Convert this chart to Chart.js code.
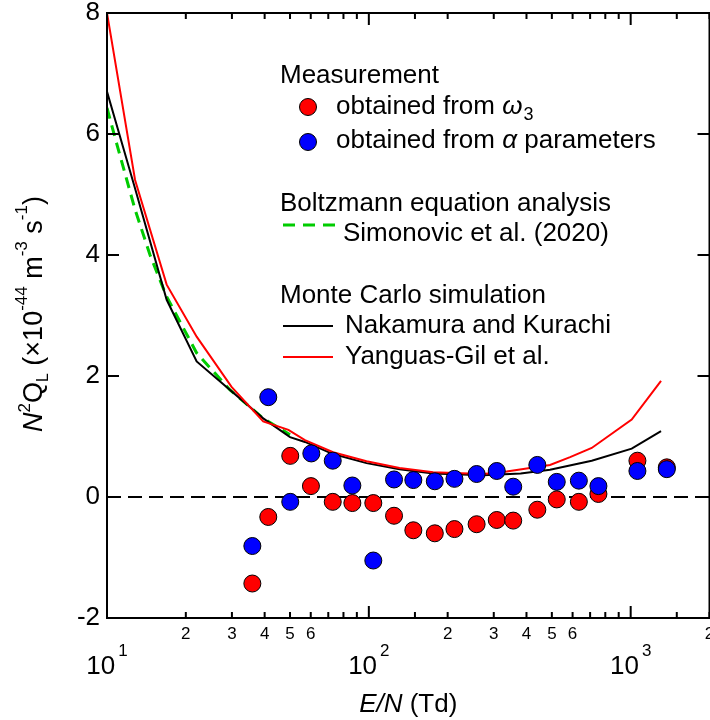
<!DOCTYPE html>
<html>
<head>
<meta charset="utf-8">
<script src="https://cdn.jsdelivr.net/npm/chart.js@4.4.1/dist/chart.umd.min.js"></script>
<style>
  html, body { margin: 0; padding: 0; background: #fff; overflow: hidden; }
  canvas { display: block; }
</style>
</head>
<body>
<canvas id="c" width="710" height="720"></canvas>
<script>
// ---------------- data ----------------
const omegaX = [35.9, 41.3, 50.1, 60.1, 72.8, 86.5, 104, 124.8, 147.9, 178.6, 212.3, 258, 308, 356, 440, 522, 634, 753, 1061, 1374];
const omegaY = [-1.43, -0.33, 0.68, 0.18, -0.08, -0.10, -0.10, -0.31, -0.55, -0.60, -0.53, -0.45, -0.38, -0.39, -0.21, -0.04, -0.08, 0.05, 0.60, 0.49];

const alphaX = [35.9, 41.3, 50.1, 60.3, 72.8, 86.5, 104, 124.8, 147.9, 178.6, 212.3, 258, 308, 356, 440, 522, 634, 753, 1061, 1374];
const alphaY = [-0.81, 1.65, -0.08, 0.72, 0.60, 0.19, -1.05, 0.29, 0.28, 0.26, 0.30, 0.38, 0.43, 0.17, 0.53, 0.25, 0.27, 0.18, 0.43, 0.46];

const nakamuraX = [10, 12.8, 16.9, 22, 39.5, 50, 57, 73, 98, 131, 176, 273, 380, 492, 710, 1009, 1306];
const nakamuraY = [6.70, 5.10, 3.26, 2.24, 1.30, 0.99, 0.91, 0.71, 0.56, 0.46, 0.39, 0.36, 0.39, 0.45, 0.60, 0.80, 1.09];

const yanguasX = [10, 12.8, 16.9, 22, 29.9, 39.5, 49.3, 57, 73, 98, 131, 176, 273, 336, 492, 587, 710, 1009, 1306];
const yanguasY = [8.0, 5.24, 3.51, 2.65, 1.82, 1.25, 1.11, 0.94, 0.74, 0.59, 0.48, 0.41, 0.38, 0.42, 0.53, 0.66, 0.81, 1.28, 1.92];

const simonovicX = [10, 10.7, 12.8, 14.6, 16.9, 22, 29.5, 39.5, 50];
const simonovicY = [6.43, 5.96, 4.75, 4.00, 3.31, 2.38, 1.77, 1.30, 1.03];

const zeroX = [10, 2000];
const zeroY = [0, 0];

// tick labels
const xMinorTickValues = [20, 30, 40, 50, 60, 200, 300, 400, 500, 600, 2000];
const xMinorTickLabels = ['2', '3', '4', '5', '6', '2', '3', '4', '5', '6', '2'];
const xMajorTickValues = [10, 100, 1000];
const xMajorTickBase = ['10', '10', '10'];
const xMajorTickExp = ['1', '2', '3'];
const yTickValues = [-2, 0, 2, 4, 6, 8];
const yTickLabels = ['-2', '0', '2', '4', '6', '8'];

// ---------------- drawing ----------------
const FONT = '"Liberation Sans", Arial, Helvetica, sans-serif';
const pts = (xs, ys) => xs.map((x, i) => ({ x: x, y: ys[i] }));
const near = (a, b) => Math.abs(a - b) <= 1e-6 * Math.max(Math.abs(a), Math.abs(b), 1);

function rich(ctx, x, y, parts) {
  let cx = x;
  for (const p of parts) {
    ctx.font = (p.italic ? 'italic ' : '') + p.size + 'px ' + FONT;
    ctx.fillText(p.t, cx, y + (p.dy || 0));
    cx += ctx.measureText(p.t).width + (p.gap || 0);
  }
  return cx;
}

const decorPlugin = {
  id: 'decor',
  afterDraw(chart) {
    const ctx = chart.ctx;
    const { left, right, top, bottom } = chart.chartArea;
    const xs = chart.scales.x, ys = chart.scales.y;
    ctx.save();
    ctx.strokeStyle = '#000';
    ctx.fillStyle = '#000';
    ctx.lineWidth = 2;
    ctx.lineCap = 'butt';
    // frame
    ctx.beginPath();
    ctx.moveTo(left, top); ctx.lineTo(right, top); ctx.lineTo(right, bottom); ctx.lineTo(left, bottom); ctx.closePath();
    ctx.stroke();
    // x ticks (bottom & top, inward)
    ctx.beginPath();
    xs.ticks.forEach(t => {
      const px = xs.getPixelForValue(t.value);
      const major = xMajorTickValues.some(v => near(v, t.value));
      const len = major ? 12 : 6;
      ctx.moveTo(px, bottom); ctx.lineTo(px, bottom - len);
      ctx.moveTo(px, top); ctx.lineTo(px, top + len);
    });
    // y ticks (left & right, inward)
    ys.ticks.forEach(t => {
      const py = ys.getPixelForValue(t.value);
      ctx.moveTo(left, py); ctx.lineTo(left + 12, py);
      ctx.moveTo(right, py); ctx.lineTo(right - 12, py);
    });
    ctx.stroke();

    // x minor labels
    ctx.textBaseline = 'alphabetic';
    ctx.textAlign = 'center';
    ctx.font = '17px ' + FONT;
    xMinorTickValues.forEach((v, i) => {
      ctx.fillText(xMinorTickLabels[i], xs.getPixelForValue(v), 639);
    });

    // x major labels with superscript exponent
    ctx.textAlign = 'left';
    xMajorTickValues.forEach((v, i) => {
      const px = xs.getPixelForValue(v);
      ctx.font = '26px ' + FONT;
      const w1 = ctx.measureText(xMajorTickBase[i]).width;
      ctx.font = '17px ' + FONT;
      const w2 = ctx.measureText(xMajorTickExp[i]).width;
      const start = px - (w1 + 3 + w2) / 2;
      rich(ctx, start, 674, [
        { t: xMajorTickBase[i], size: 26, gap: 3 },
        { t: xMajorTickExp[i], size: 17, dy: -18 }
      ]);
    });

    // x axis title
    ctx.font = 'italic 26px ' + FONT;
    const wA = ctx.measureText('E/N').width;
    ctx.font = '26px ' + FONT;
    const wB = ctx.measureText(' (Td)').width;
    const cx = (left + right) / 2;
    rich(ctx, cx - (wA + wB) / 2, 712, [
      { t: 'E/N', size: 26, italic: true },
      { t: ' (Td)', size: 26 }
    ]);

    // y axis title (rotated)
    ctx.save();
    ctx.translate(42, 432);
    ctx.rotate(-Math.PI / 2);
    rich(ctx, 0, 0, [
      { t: 'N', size: 27, italic: true },
      { t: '2', size: 17, dy: -12 },
      { t: 'Q', size: 27 },
      { t: 'L', size: 16, dy: 6 },
      { t: ' (×10', size: 27 },
      { t: '-44', size: 17, dy: -15 },
      { t: ' m', size: 27 },
      { t: '-3', size: 17, dy: -15 },
      { t: ' s', size: 27 },
      { t: '-1', size: 17, dy: -15 },
      { t: ')', size: 27 }
    ]);
    ctx.restore();

    // legend
    ctx.fillStyle = '#000';
    rich(ctx, 280, 83, [{ t: 'Measurement', size: 26 }]);
    ctx.lineWidth = 1;
    ctx.beginPath(); ctx.arc(308, 107, 8.5, 0, Math.PI * 2);
    ctx.fillStyle = '#ff0000'; ctx.fill(); ctx.strokeStyle = '#000'; ctx.stroke();
    ctx.fillStyle = '#000';
    rich(ctx, 336, 114, [
      { t: 'obtained from ', size: 26 },
      { t: 'ω', size: 26, italic: true, gap: 1 },
      { t: '3', size: 18, dy: 6 }
    ]);
    ctx.beginPath(); ctx.arc(308, 142, 8.5, 0, Math.PI * 2);
    ctx.fillStyle = '#0000ff'; ctx.fill(); ctx.strokeStyle = '#000'; ctx.stroke();
    ctx.fillStyle = '#000';
    rich(ctx, 336, 148, [
      { t: 'obtained from ', size: 26 },
      { t: 'α', size: 26, italic: true },
      { t: ' parameters', size: 26 }
    ]);
    rich(ctx, 280, 211, [{ t: 'Boltzmann equation analysis', size: 26 }]);
    ctx.lineWidth = 3;
    ctx.strokeStyle = '#00cc00';
    ctx.setLineDash([12, 8]);
    ctx.beginPath(); ctx.moveTo(283, 225); ctx.lineTo(335, 225); ctx.stroke();
    ctx.setLineDash([]);
    rich(ctx, 343, 241, [{ t: 'Simonovic et al. (2020)', size: 26 }]);
    rich(ctx, 280, 303, [{ t: 'Monte Carlo simulation', size: 26 }]);
    ctx.lineWidth = 2;
    ctx.strokeStyle = '#000';
    ctx.beginPath(); ctx.moveTo(283, 326); ctx.lineTo(333, 326); ctx.stroke();
    rich(ctx, 345, 333, [{ t: 'Nakamura and Kurachi', size: 26 }]);
    ctx.strokeStyle = '#ff0000';
    ctx.beginPath(); ctx.moveTo(283, 357); ctx.lineTo(333, 357); ctx.stroke();
    rich(ctx, 345, 364, [{ t: 'Yanguas-Gil et al.', size: 26 }]);
    ctx.restore();
  }
};

new Chart(document.getElementById('c'), {
  type: 'scatter',
  data: {
    datasets: [
      { label: 'obtained from α parameters', data: pts(alphaX, alphaY), backgroundColor: '#0000ff', borderColor: '#000', borderWidth: 1, pointRadius: 8.5, showLine: false, order: 0 },
      { label: 'obtained from ω3', data: pts(omegaX, omegaY), backgroundColor: '#ff0000', borderColor: '#000', borderWidth: 1, pointRadius: 8.5, showLine: false, order: 1 },
      { label: 'Yanguas-Gil et al.', data: pts(yanguasX, yanguasY), showLine: true, borderColor: '#ff0000', borderWidth: 2, pointRadius: 0, fill: false, tension: 0, order: 2 },
      { label: 'Nakamura and Kurachi', data: pts(nakamuraX, nakamuraY), showLine: true, borderColor: '#000', borderWidth: 2, pointRadius: 0, fill: false, tension: 0, order: 3 },
      { label: 'Simonovic et al. (2020)', data: pts(simonovicX, simonovicY), showLine: true, borderColor: '#00cc00', borderWidth: 3, borderDash: [11, 7], pointRadius: 0, fill: false, tension: 0, order: 4 },
      { label: 'zero', data: pts(zeroX, zeroY), showLine: true, borderColor: '#000', borderWidth: 2, borderDash: [14, 7], pointRadius: 0, fill: false, order: 5 }
    ]
  },
  options: {
    responsive: false,
    animation: false,
    devicePixelRatio: 1,
    layout: { autoPadding: false, padding: { top: 13, right: 0.5, left: 0, bottom: 0 } },
    plugins: { legend: { display: false }, tooltip: { enabled: false } },
    scales: {
      x: {
        type: 'logarithmic',
        min: 10, max: 2000,
        grid: { display: false, drawTicks: false },
        border: { display: false },
        ticks: { display: false, autoSkip: false },
        afterFit: (s) => { s.height = 102; s.paddingLeft = 0; s.paddingRight = 0; }
      },
      y: {
        min: -2, max: 8,
        grid: { display: false, drawTicks: false },
        border: { display: false },
        ticks: {
          stepSize: 2, padding: 7, color: '#000',
          font: { size: 26, family: FONT },
          callback: (v) => {
            const i = yTickValues.findIndex(t => near(t, v));
            return i >= 0 ? yTickLabels[i] : '';
          }
        },
        afterFit: (s) => { s.width = 107; s.paddingTop = 0; s.paddingBottom = 0; }
      }
    }
  },
  plugins: [decorPlugin]
});
</script>
</body>
</html>
